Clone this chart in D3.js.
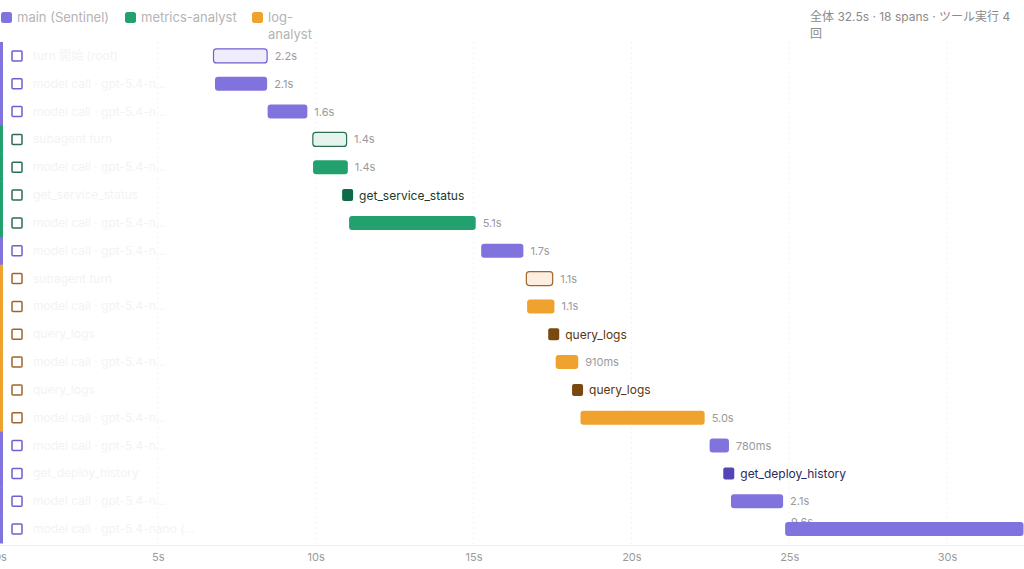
<!DOCTYPE html>
<html>
<head>
<meta charset="utf-8">
<script src="https://cdn.jsdelivr.net/npm/d3@7"></script>
<style>
  body { margin: 0; background: #fff; }
  svg { display: block; font-family: "Inter", "Noto Sans CJK JP", sans-serif; }
</style>
</head>
<body>
<div class="chart"></div>
<script>
// span data
const agents = ["main (Sentinel)", "metrics-analyst", "log-analyst"];
const spanLabels = [
  "turn 開始 (root)", "model call · gpt-5.4-n…", "model call · gpt-5.4-n…",
  "subagent turn", "model call · gpt-5.4-n…", "get_service_status",
  "model call · gpt-5.4-n…", "model call · gpt-5.4-n…", "subagent turn",
  "model call · gpt-5.4-n…", "query_logs", "model call · gpt-5.4-n…",
  "query_logs", "model call · gpt-5.4-n…", "model call · gpt-5.4-n…",
  "get_deploy_history", "model call · gpt-5.4-n…", "model call · gpt-5.4-nano (…"
];
const spanAgent = [0, 0, 0, 1, 1, 1, 1, 0, 2, 2, 2, 2, 2, 2, 0, 0, 0, 0];
const spanKind = ["turn", "model", "model", "turn", "model", "tool", "model", "model", "turn",
  "model", "tool", "model", "tool", "model", "model", "tool", "model", "model"];
const spanStart = [0.0, 0.08, 2.2, 4.0, 4.03, 5.2, 5.48, 10.8, 12.6, 12.65, 13.5, 13.8, 14.46, 14.8, 20.0, 20.55, 20.86, 23.04];
const spanDur = [2.2, 2.1, 1.6, 1.4, 1.4, 0, 5.1, 1.7, 1.1, 1.1, 0, 0.91, 0, 5.0, 0.78, 0, 2.1, 9.6];
const durLabels = ["2.2s", "2.1s", "1.6s", "1.4s", "1.4s", "", "5.1s", "1.7s", "1.1s", "1.1s", "",
  "910ms", "", "5.0s", "780ms", "", "2.1s", "9.6s"];
const axisTicks = [0, 5, 10, 15, 20, 25, 30];
const totalTime = 32.5;
const summary = ["全体 32.5s · 18 spans · ツール実行 4", "回"];

const width = 1024, height = 569;

// colours per agent
const barColor = ["#8173de", "#22a06e", "#f0a22e"];
const lightFill = ["#efedfb", "#e5f5ee", "#fdeee0"];
const strokeColor = ["#6f5fd0", "#2c6e52", "#a0652c"];
const toolColor = ["#5444b4", "#106a48", "#7a4910"];
const toolText = ["#2c2860", "#173a2b", "#5a3510"];

const svg = d3.select(".chart").append("svg")
  .attr("width", width).attr("height", height);

const rows = d3.range(spanLabels.length);
const y = d3.scaleBand().domain(rows).range([42, 543]);
const xAxisScale = d3.scaleLinear().domain([0, totalTime]).range([0, 1026]);
const xBar = d3.scaleLinear().domain([0, totalTime]).range([213, 1020]);

// grid
svg.append("g").selectAll("line")
  .data(axisTicks.slice(1))
  .enter().append("line")
  .attr("x1", d => xAxisScale(d)).attr("x2", d => xAxisScale(d))
  .attr("y1", 42).attr("y2", 545)
  .attr("stroke", "#f4f4f4").attr("stroke-dasharray", "2,3");

// axis
const axis = svg.append("g")
  .attr("transform", "translate(0,545)")
  .call(d3.axisBottom(xAxisScale).tickValues(axisTicks).tickFormat(d => d + "s").tickSize(0).tickPadding(8));
axis.select(".domain").attr("stroke", "#eeeeee");
axis.selectAll("text").attr("fill", "#9a9a9a").style("font-size", "11px").style("font-family", "Inter, sans-serif");

// left agent strip
svg.append("g").selectAll("rect")
  .data(rows).enter().append("rect")
  .attr("x", 0).attr("width", 3)
  .attr("y", d => y(d)).attr("height", y.step() + 0.5)
  .attr("fill", d => barColor[spanAgent[d]]);

// checkboxes
svg.append("g").selectAll("rect")
  .data(rows).enter().append("rect")
  .attr("x", 12).attr("y", d => y(d) + y.bandwidth() / 2 - 5)
  .attr("width", 10).attr("height", 10).attr("rx", 1)
  .attr("fill", "#fff")
  .attr("stroke", d => strokeColor[spanAgent[d]]).attr("stroke-width", 1.5);

// row labels (very faint)
svg.append("g").selectAll("text")
  .data(rows).enter().append("text")
  .attr("x", 33).attr("y", d => y(d) + y.bandwidth() / 2 + 4)
  .attr("fill", "#f3f3f3").style("font-size", "12px")
  .text(d => spanLabels[d]);

// duration labels (drawn before bars so the clipped one can sit underneath)
const labelG = svg.append("g");
const barG = svg.append("g");

rows.forEach(i => {
  const a = spanAgent[i];
  const cy = y(i) + y.bandwidth() / 2;
  const x0 = xBar(spanStart[i]);
  if (spanKind[i] === "tool") {
    barG.append("rect")
      .attr("x", x0).attr("y", cy - 6).attr("width", 11).attr("height", 12).attr("rx", 2)
      .attr("fill", toolColor[a]);
    barG.append("text")
      .attr("x", x0 + 17).attr("y", cy + 4.5)
      .attr("fill", toolText[a]).style("font-size", "12px")
      .text(spanLabels[i]);
    return;
  }
  const x1 = xBar(spanStart[i] + spanDur[i]);
  const turn = spanKind[i] === "turn";
  barG.append("rect")
    .attr("x", turn ? x0 + 0.5 : x0).attr("y", cy - 7)
    .attr("width", turn ? x1 - x0 - 1 : x1 - x0).attr("height", 14).attr("rx", 3)
    .attr("fill", turn ? lightFill[a] : barColor[a])
    .attr("stroke", turn ? strokeColor[a] : "none").attr("stroke-width", 1.2);
  const overflow = x1 + 40 > width;
  labelG.append("text")
    .attr("x", overflow ? x0 + 6 : x1 + 7)
    .attr("y", overflow ? cy - 3 : cy + 4)
    .attr("fill", "#9a9a9a").style("font-size", "11px")
    .text(durLabels[i]);
});

// legend
const legend = svg.append("g");
const legendX = [1, 125, 252];
agents.forEach((name, i) => {
  legend.append("rect")
    .attr("x", legendX[i]).attr("y", 12).attr("width", 11).attr("height", 11).attr("rx", 2.5)
    .attr("fill", barColor[i]);
  const t = legend.append("text")
    .attr("x", legendX[i] + 16).attr("y", 22)
    .attr("fill", "#b4b4b4").style("font-size", "13px");
  if (name === "log-analyst") {
    t.append("tspan").attr("x", legendX[i] + 16).text("log-");
    t.append("tspan").attr("x", legendX[i] + 16).attr("dy", 17).text("analyst");
  } else {
    t.text(name);
  }
});

// summary top right
const s = svg.append("text")
  .attr("x", 810).attr("y", 21)
  .attr("fill", "#8a8a8a").style("font-size", "12px");
summary.forEach((line, i) => {
  s.append("tspan").attr("x", 810).attr("dy", i ? 17 : 0).text(line);
});
</script>
</body>
</html>
